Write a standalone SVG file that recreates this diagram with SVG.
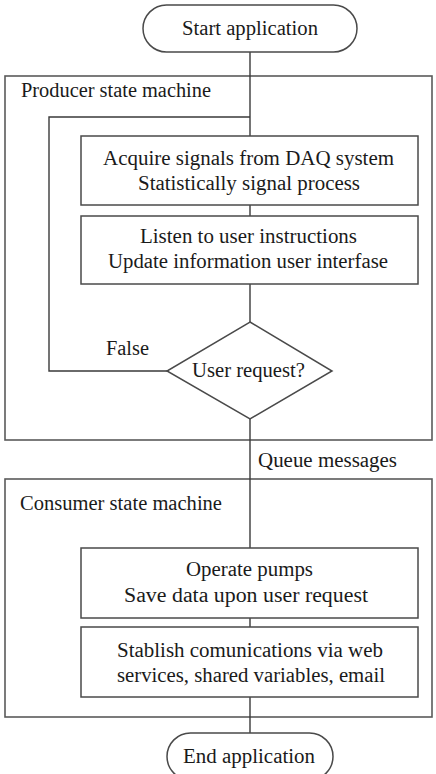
<svg xmlns="http://www.w3.org/2000/svg" width="436" height="774" viewBox="0 0 436 774">
  <style>
    .frame { fill: none; stroke: #5a5a5a; stroke-width: 1.6; }
    .shape { fill: #ffffff; stroke: #4a4a4a; stroke-width: 1.5; }
    .wire { fill: none; stroke: #3a3a3a; stroke-width: 1.4; }
    text { font-family: "Liberation Serif", "Times New Roman", serif; font-size: 20px; fill: #1a1a1a; }
    .c { text-anchor: middle; }
  </style>
  <rect width="436" height="774" fill="#ffffff"/>

  <!-- state machine frames -->
  <g id="producer">
    <rect class="frame" x="5" y="76" width="427" height="364"/>
    <text x="21" y="97" textLength="190" lengthAdjust="spacingAndGlyphs">Producer state machine</text>
  </g>
  <g id="consumer">
    <rect class="frame" x="5" y="479" width="427" height="238"/>
    <text x="20" y="510" textLength="202" lengthAdjust="spacingAndGlyphs">Consumer state machine</text>
  </g>

  <!-- connectors -->
  <g id="connectors">
    <line class="wire" x1="250" y1="52" x2="250" y2="136"/>
    <line class="wire" x1="250" y1="205" x2="250" y2="216"/>
    <line class="wire" x1="250" y1="284" x2="250" y2="322"/>
    <polyline class="wire" points="167,371 49,371 49,117 250,117"/>
    <line class="wire" x1="250" y1="419" x2="250" y2="548"/>
    <line class="wire" x1="250" y1="618" x2="250" y2="627"/>
    <line class="wire" x1="250" y1="697" x2="250" y2="733"/>
    <text x="106" y="355" textLength="43" lengthAdjust="spacingAndGlyphs">False</text>
    <text x="258" y="467" textLength="139" lengthAdjust="spacingAndGlyphs">Queue messages</text>
  </g>

  <g id="start">
    <rect class="shape" x="143" y="5" width="214" height="47" rx="23.5" ry="23.5"/>
    <text x="250" y="35" class="c" textLength="136" lengthAdjust="spacingAndGlyphs">Start application</text>
  </g>

  <g id="acquire">
    <rect class="shape" x="81" y="136" width="337" height="69"/>
    <text x="248.5" y="165" class="c" textLength="291" lengthAdjust="spacingAndGlyphs">Acquire signals from DAQ system</text>
    <text x="249" y="190" class="c" textLength="222" lengthAdjust="spacingAndGlyphs">Statistically signal process</text>
  </g>

  <g id="listen">
    <rect class="shape" x="81" y="216" width="337" height="68"/>
    <text x="248.5" y="243" class="c" textLength="217" lengthAdjust="spacingAndGlyphs">Listen to user instructions</text>
    <text x="248" y="268" class="c" textLength="280" lengthAdjust="spacingAndGlyphs">Update information user interfase</text>
  </g>

  <g id="request">
    <polygon class="shape" points="250,322 332,371 250,419 167,371"/>
    <text x="248.5" y="377" class="c" textLength="113" lengthAdjust="spacingAndGlyphs">User request?</text>
  </g>

  <g id="operate">
    <rect class="shape" x="81" y="548" width="337" height="70"/>
    <text x="249.5" y="576" class="c" textLength="127" lengthAdjust="spacingAndGlyphs">Operate pumps</text>
    <text x="246" y="602" class="c" textLength="244" lengthAdjust="spacingAndGlyphs">Save data upon user request</text>
  </g>

  <g id="communicate">
    <rect class="shape" x="81" y="627" width="337" height="70"/>
    <text x="250" y="657" class="c" textLength="266" lengthAdjust="spacingAndGlyphs">Stablish comunications via web</text>
    <text x="251" y="682" class="c" textLength="268" lengthAdjust="spacingAndGlyphs">services, shared variables, email</text>
  </g>

  <g id="end">
    <rect class="shape" x="167" y="733" width="166" height="47" rx="23.5" ry="23.5"/>
    <text x="249" y="763" class="c" textLength="132" lengthAdjust="spacingAndGlyphs">End application</text>
  </g>
</svg>
